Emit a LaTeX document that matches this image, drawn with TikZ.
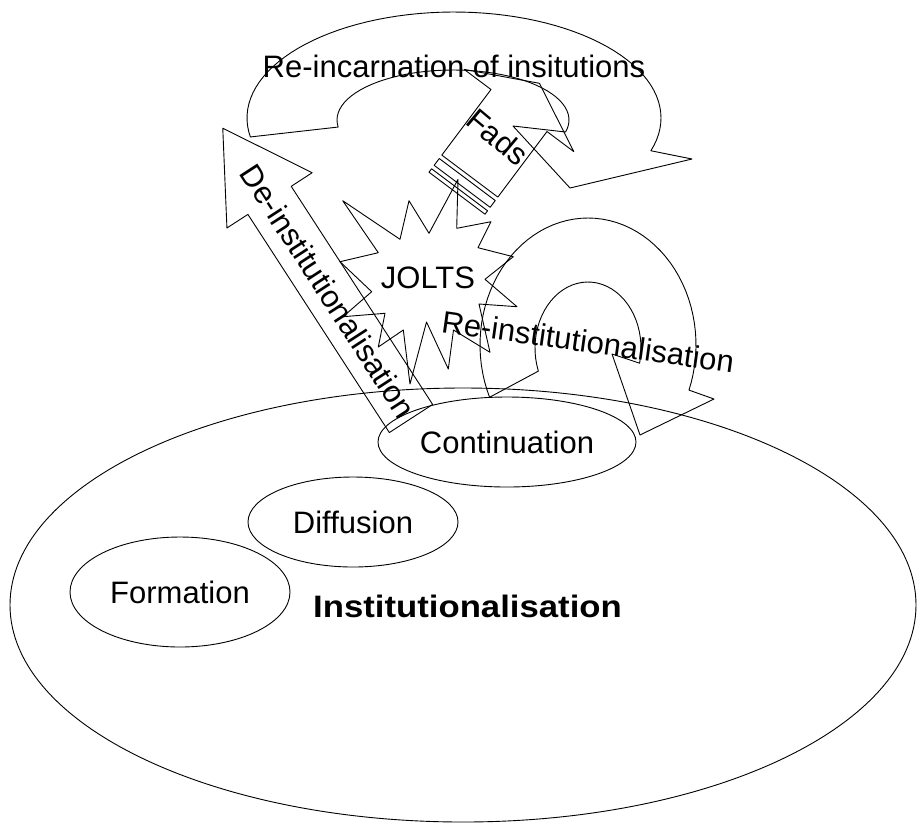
\documentclass[tikz,border=0pt]{standalone}
\usepackage{fontspec}
\setmainfont{Liberation Sans}
\usepackage{graphicx}
\usetikzlibrary{shapes.geometric}
\begin{document}
\begin{tikzpicture}[x=1pt,y=-1pt,
  outline/.style={draw=black,line width=0.9pt,line join=round},
  txt/.style={font=\fontsize{31}{31}\selectfont,inner sep=0pt,text=black},
  stage/.style={outline,ellipse,inner sep=0pt,font=\fontsize{31}{31}\selectfont},
]
\useasboundingbox (0,0) rectangle (918,823);

% institutionalisation field and its stages
\node[stage,minimum width=906pt,minimum height=434pt] (field) at (463,605) {};
\node[txt,font=\fontsize{31}{31}\selectfont\bfseries,anchor=base] (inst) at (467.5,617)
  {\scalebox{1.12}[1]{Institutionalisation}};
\node[stage,minimum width=258pt,minimum height=90pt] (cont) at (507,442) {Continuation};
\node[stage,minimum width=210pt,minimum height=90pt] (diff) at (353,522) {Diffusion};
\node[stage,minimum width=220pt,minimum height=110pt] (form) at (180,592) {Formation};

% JOLTS explosion
\draw[outline] (342.7,200.7) -- (400,239.3) -- (409,200.7) -- (429,233.3) -- (458,179.3)
  -- (456.7,228.3) -- (491,221.7) -- (478,247.7) -- (513.3,256.7) -- (485,279.3)
  -- (517,306.7) -- (479,304) -- (490,352.3) -- (453.5,330) -- (448.3,369)
  -- (426.5,322) -- (410,384) -- (403.3,330) -- (378.3,347) -- (385,313.3)
  -- (343,316.7) -- (371.7,291.7) -- (340,261.7) -- (378.3,252.7) -- cycle;
\node[txt,anchor=base] (jolts) at (428,288) {JOLTS};

% re-incarnation: circular arrow over the top
\draw[outline]
  plot[domain=169.7:378,samples=70,variable=\t] ({454+207*cos(\t)},{118+106*sin(\t)})
  -- (692,159) -- (570,188) -- (513,126)
  -- plot[domain=373.9:171.9,samples=50,variable=\t] ({453+116*cos(\t)},{120+50*sin(\t)})
  -- cycle;
\node[txt,anchor=base] (reinc) at (454,77) {Re-incarnation of insitutions};

% re-institutionalisation: circular arrow back onto continuation
\draw[outline]
  plot[domain=155.7:380.8,samples=60,variable=\t] ({588+108*cos(\t)},{345+127*sin(\t)})
  -- (714,399) -- (640,435) -- (612,354)
  -- plot[domain=373.3:159.5,samples=40,variable=\t] ({588+53*cos(\t)},{348+66*sin(\t)})
  -- cycle;
\node[txt,anchor=base,rotate=-8] (reinst) at (586.5,352.5) {Re-institutionalisation};

% de-institutionalisation: block arrow leaving the field
\begin{scope}[shift={(411,418.5)},rotate=122.96]
  \draw[outline] (0,-25.8) -- (260,-25.8) -- (260,-50.8) -- (346,0) -- (260,50.8)
    -- (260,25.8) -- (0,25.8) -- cycle;
\end{scope}
\node[txt,rotate=-57.04] (deinst) at (328.3,291) {De-institutionalisation};

% fads: striped arrow from the jolts
\begin{scope}[shift={(519,110.5)},rotate=53.13]
  \draw[outline] (-82,-35) -- (0,-35) -- (0,-68.5) -- (34,0) -- (0,68.5) -- (0,35)
    -- (-82,35) -- cycle;
  \draw[outline] (-86.3,-35) rectangle (-94.8,35);
  \draw[outline] (-99.1,-35) rectangle (-103.4,35);
\end{scope}
\node[txt,rotate=-40] (fads) at (498,137) {Fads};
\end{tikzpicture}
\end{document}
